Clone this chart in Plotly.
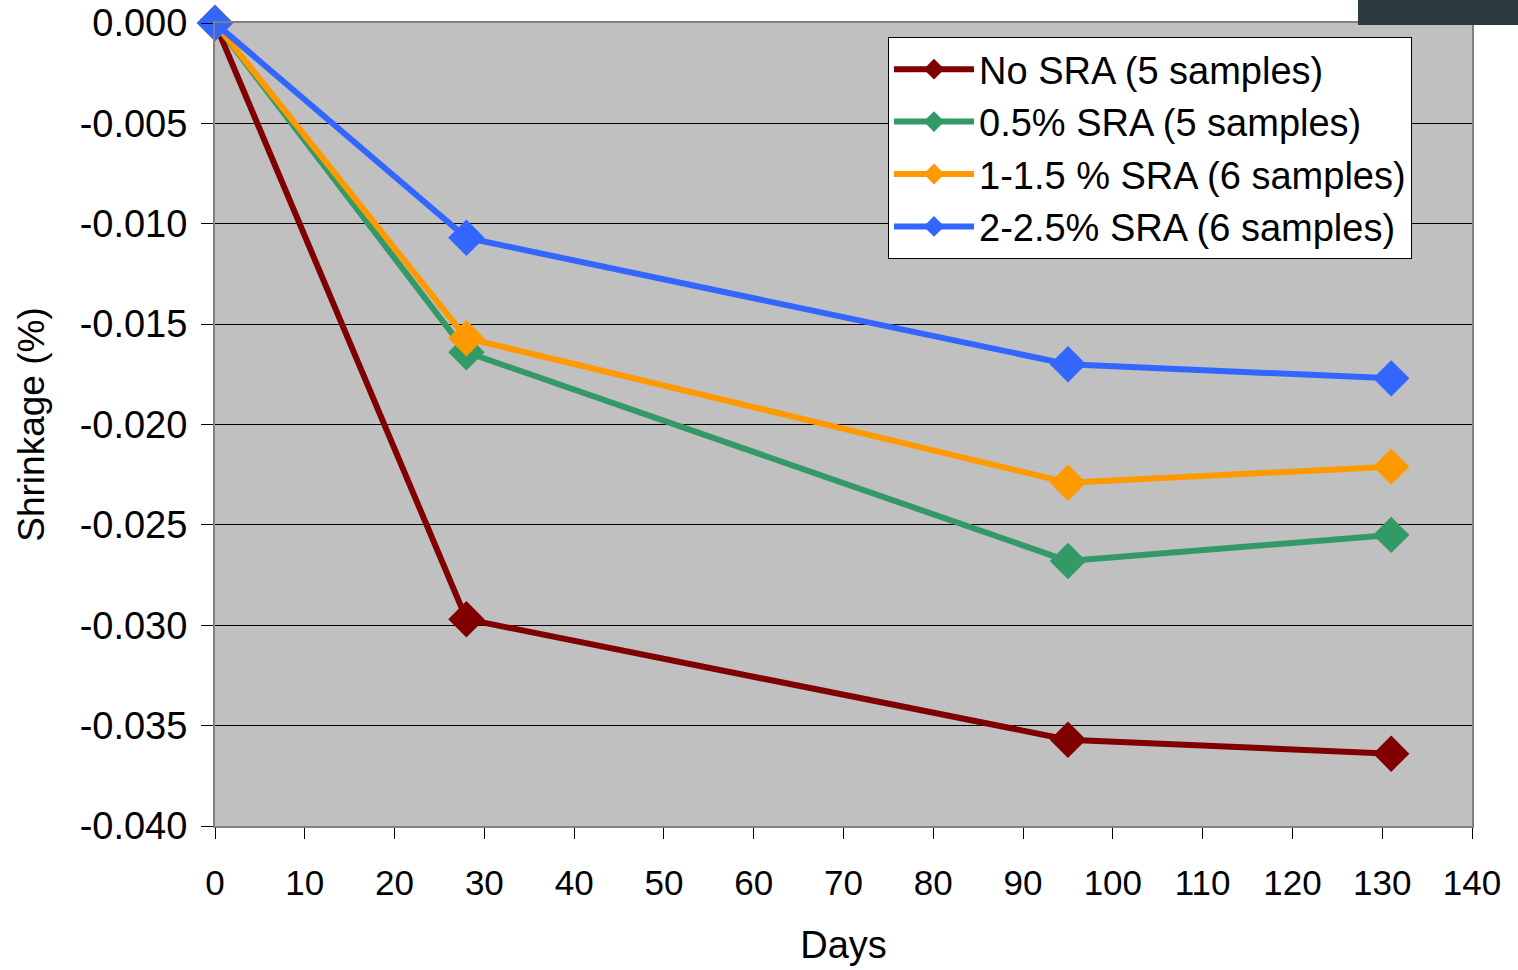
import plotly.graph_objects as go

# Shrinkage measurements over time for each SRA dosage group
days = [0, 28, 95, 131]
no_sra = [0.0, -0.0297, -0.0357, -0.0364]
sra_05 = [0.0, -0.0164, -0.0268, -0.0255]
sra_1_15 = [0.0, -0.0157, -0.0229, -0.0221]
sra_2_25 = [0.0, -0.0107, -0.0170, -0.0177]

series_names = [
    "No SRA (5 samples)",
    "0.5% SRA (5 samples)",
    "1-1.5 % SRA (6 samples)",
    "2-2.5% SRA (6 samples)",
]
series_values = [no_sra, sra_05, sra_1_15, sra_2_25]
series_colors = ["#800000", "#339966", "#FF9900", "#3366FF"]

x_ticks = list(range(0, 141, 10))
y_ticks = [0.0, -0.005, -0.010, -0.015, -0.020, -0.025, -0.030, -0.035, -0.040]
y_tick_labels = ["0.000", "-0.005", "-0.010", "-0.015", "-0.020",
                 "-0.025", "-0.030", "-0.035", "-0.040"]

FONT = "Liberation Sans, Arial, sans-serif"

fig = go.Figure()
for name, vals, color in zip(series_names, series_values, series_colors):
    fig.add_trace(go.Scatter(
        x=days, y=vals, name=name, mode="lines+markers",
        line=dict(color=color, width=6),
        marker=dict(symbol="diamond", size=28, color=color),
        cliponaxis=False,
    ))

W, H = 1518, 970
L, R, T, B = 215, 46, 23, 144
pw = W - L - R
ph = H - T - B

fig.update_layout(
    width=W, height=H,
    margin=dict(l=L, r=R, t=T, b=B),
    paper_bgcolor="white",
    plot_bgcolor="#C0C0C0",
    font=dict(family=FONT, size=36, color="black"),
    showlegend=True,
    legend=dict(
        x=(888 - L) / pw, y=1 - (37 - T) / ph,
        xanchor="left", yanchor="top",
        bgcolor="white", bordercolor="black", borderwidth=1,
        font=dict(family=FONT, size=38, color="black"),
        itemwidth=80, tracegroupgap=0,
    ),
    xaxis=dict(
        range=[0, 140], tickvals=x_ticks, automargin=False,
        ticks="outside", ticklen=11, tickcolor="black", tickwidth=1,
        ticklabelstandoff=14,
        showgrid=False, zeroline=False,
        showline=True, linecolor="#808080", linewidth=2, mirror=True,
        tickfont=dict(family=FONT, size=35),
        title=dict(text="Days", font=dict(family=FONT, size=38), standoff=30),
    ),
    yaxis=dict(
        range=[-0.040, 0.0], tickvals=y_ticks, ticktext=y_tick_labels,
        automargin=False,
        ticks="outside", ticklen=12, tickcolor="black", tickwidth=1,
        ticklabelstandoff=6,
        showgrid=True, gridcolor="black", gridwidth=1, zeroline=False,
        showline=True, linecolor="#808080", linewidth=2, mirror=True,
        tickfont=dict(family=FONT, size=38),
        title=dict(text="Shrinkage (%)", font=dict(family=FONT, size=37), standoff=24),
    ),
    shapes=[dict(
        type="rect", xref="paper", yref="paper", layer="above",
        x0=(1358 - L) / pw, x1=(W - L) / pw,
        y0=1 + (T - 25) / ph, y1=1 + T / ph + 0.01,
        fillcolor="#2C3A42", line=dict(width=0),
    )],
)

fig.write_html("out.html")
